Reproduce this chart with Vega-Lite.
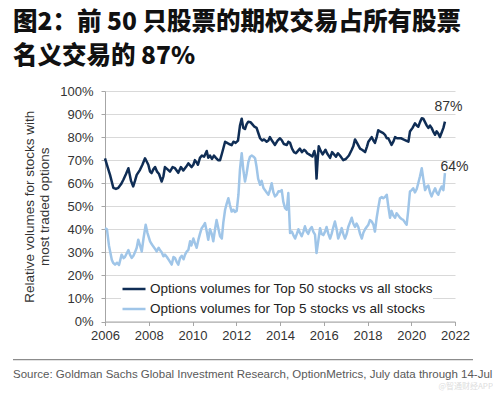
{
"$schema": "https://vega.github.io/schema/vega-lite/v6.json",
"background": "white",
"padding": {"left": 13, "top": 10, "right": 0, "bottom": 0},
"autosize": {"type": "pad"},
"title": {"text": ["图2：前 50 只股票的期权交易占所有股票", "名义交易的 87%"], "anchor": "start", "frame": "bounds", "font": "Noto Sans CJK SC", "fontSize": 24.5, "fontWeight": 900, "lineHeight": 34, "color": "#111111", "offset": 15.5},
"columns": 1,
"align": "none",
"center": false,
"spacing": 16,
"resolve": {"scale": {"color": "independent"}, "legend": {"color": "independent"}},
"config": {"view": {"stroke": null}, "font": "Liberation Sans",
"axisX": {"tickCount": 9, "labelOverlap": false},
"axisY": {"tickCount": 11, "labelOverlap": false}},
"concat": [
{
"width": 350,
"height": 230.5,
"layer": [
{
"data": {"values": [
{"s":"50","t":2006.00,"v":70.8},{"s":"50","t":2006.12,"v":67},{"s":"50","t":2006.23,"v":63.6},{"s":"50","t":2006.38,"v":58},{"s":"50","t":2006.50,"v":57.5},{"s":"50","t":2006.61,"v":58},{"s":"50","t":2006.73,"v":59.5},{"s":"50","t":2006.84,"v":61.5},{"s":"50","t":2006.96,"v":64},{"s":"50","t":2007.07,"v":66.5},{"s":"50","t":2007.19,"v":61},{"s":"50","t":2007.29,"v":58.6},{"s":"50","t":2007.37,"v":61},{"s":"50","t":2007.45,"v":63.6},{"s":"50","t":2007.60,"v":65.8},{"s":"50","t":2007.71,"v":68},{"s":"50","t":2007.83,"v":70.8},{"s":"50","t":2007.90,"v":69.5},{"s":"50","t":2007.98,"v":68},{"s":"50","t":2008.06,"v":65},{"s":"50","t":2008.13,"v":64.4},{"s":"50","t":2008.21,"v":66},{"s":"50","t":2008.29,"v":67},{"s":"50","t":2008.38,"v":65},{"s":"50","t":2008.47,"v":64},{"s":"50","t":2008.59,"v":60.7},{"s":"50","t":2008.67,"v":63},{"s":"50","t":2008.74,"v":67},{"s":"50","t":2008.86,"v":66},{"s":"50","t":2008.97,"v":65},{"s":"50","t":2009.09,"v":67},{"s":"50","t":2009.20,"v":66.5},{"s":"50","t":2009.35,"v":64.5},{"s":"50","t":2009.47,"v":67},{"s":"50","t":2009.58,"v":65.5},{"s":"50","t":2009.70,"v":67},{"s":"50","t":2009.81,"v":68.6},{"s":"50","t":2009.96,"v":67},{"s":"50","t":2010.04,"v":68},{"s":"50","t":2010.11,"v":70},{"s":"50","t":2010.19,"v":69},{"s":"50","t":2010.25,"v":68},{"s":"50","t":2010.34,"v":71},{"s":"50","t":2010.43,"v":72},{"s":"50","t":2010.53,"v":71.5},{"s":"50","t":2010.65,"v":74},{"s":"50","t":2010.72,"v":71},{"s":"50","t":2010.80,"v":72},{"s":"50","t":2010.89,"v":70.5},{"s":"50","t":2010.98,"v":72},{"s":"50","t":2011.07,"v":71},{"s":"50","t":2011.17,"v":70},{"s":"50","t":2011.26,"v":70},{"s":"50","t":2011.35,"v":73},{"s":"50","t":2011.49,"v":78},{"s":"50","t":2011.58,"v":77.5},{"s":"50","t":2011.67,"v":77},{"s":"50","t":2011.79,"v":76.5},{"s":"50","t":2011.87,"v":78},{"s":"50","t":2011.97,"v":77.5},{"s":"50","t":2012.08,"v":78.5},{"s":"50","t":2012.17,"v":85},{"s":"50","t":2012.25,"v":88},{"s":"50","t":2012.32,"v":84},{"s":"50","t":2012.40,"v":83.5},{"s":"50","t":2012.47,"v":85.5},{"s":"50","t":2012.55,"v":86.7},{"s":"50","t":2012.65,"v":86.5},{"s":"50","t":2012.74,"v":85.5},{"s":"50","t":2012.83,"v":84.5},{"s":"50","t":2012.93,"v":84},{"s":"50","t":2013.00,"v":82},{"s":"50","t":2013.09,"v":79.5},{"s":"50","t":2013.18,"v":78.5},{"s":"50","t":2013.27,"v":79},{"s":"50","t":2013.39,"v":78},{"s":"50","t":2013.47,"v":78.5},{"s":"50","t":2013.54,"v":80},{"s":"50","t":2013.63,"v":78.5},{"s":"50","t":2013.77,"v":76.6},{"s":"50","t":2013.89,"v":78.5},{"s":"50","t":2014.00,"v":79.5},{"s":"50","t":2014.09,"v":78.5},{"s":"50","t":2014.18,"v":77},{"s":"50","t":2014.31,"v":76.6},{"s":"50","t":2014.38,"v":78},{"s":"50","t":2014.46,"v":77.5},{"s":"50","t":2014.55,"v":75},{"s":"50","t":2014.64,"v":73.5},{"s":"50","t":2014.73,"v":73},{"s":"50","t":2014.82,"v":74},{"s":"50","t":2014.91,"v":75},{"s":"50","t":2015.00,"v":73.5},{"s":"50","t":2015.10,"v":74.5},{"s":"50","t":2015.17,"v":74},{"s":"50","t":2015.24,"v":73},{"s":"50","t":2015.33,"v":72.5},{"s":"50","t":2015.48,"v":71.6},{"s":"50","t":2015.57,"v":74},{"s":"50","t":2015.62,"v":72},{"s":"50","t":2015.67,"v":62},{"s":"50","t":2015.72,"v":70},{"s":"50","t":2015.77,"v":76},{"s":"50","t":2015.86,"v":74},{"s":"50","t":2015.95,"v":72.5},{"s":"50","t":2016.08,"v":74.5},{"s":"50","t":2016.15,"v":73},{"s":"50","t":2016.29,"v":71},{"s":"50","t":2016.38,"v":73.5},{"s":"50","t":2016.47,"v":72.5},{"s":"50","t":2016.56,"v":71.5},{"s":"50","t":2016.65,"v":73},{"s":"50","t":2016.74,"v":72},{"s":"50","t":2016.89,"v":70},{"s":"50","t":2017.01,"v":70.5},{"s":"50","t":2017.15,"v":72},{"s":"50","t":2017.28,"v":74.5},{"s":"50","t":2017.35,"v":76},{"s":"50","t":2017.43,"v":79},{"s":"50","t":2017.52,"v":77.5},{"s":"50","t":2017.66,"v":75},{"s":"50","t":2017.75,"v":74.5},{"s":"50","t":2017.89,"v":73.5},{"s":"50","t":2017.98,"v":76},{"s":"50","t":2018.04,"v":78},{"s":"50","t":2018.19,"v":80},{"s":"50","t":2018.27,"v":78.5},{"s":"50","t":2018.34,"v":77.5},{"s":"50","t":2018.42,"v":80},{"s":"50","t":2018.49,"v":83},{"s":"50","t":2018.57,"v":82.5},{"s":"50","t":2018.72,"v":81.7},{"s":"50","t":2018.80,"v":81},{"s":"50","t":2018.88,"v":79.5},{"s":"50","t":2018.95,"v":79.5},{"s":"50","t":2019.03,"v":78},{"s":"50","t":2019.10,"v":76.6},{"s":"50","t":2019.18,"v":78},{"s":"50","t":2019.26,"v":80},{"s":"50","t":2019.35,"v":79.5},{"s":"50","t":2019.44,"v":79.5},{"s":"50","t":2019.53,"v":79.5},{"s":"50","t":2019.64,"v":79},{"s":"50","t":2019.76,"v":78.5},{"s":"50","t":2019.87,"v":78},{"s":"50","t":2019.94,"v":82.4},{"s":"50","t":2020.06,"v":84},{"s":"50","t":2020.17,"v":86},{"s":"50","t":2020.25,"v":85},{"s":"50","t":2020.32,"v":84.5},{"s":"50","t":2020.40,"v":86.5},{"s":"50","t":2020.48,"v":88.2},{"s":"50","t":2020.55,"v":88},{"s":"50","t":2020.63,"v":86.5},{"s":"50","t":2020.71,"v":85},{"s":"50","t":2020.78,"v":84},{"s":"50","t":2020.86,"v":85},{"s":"50","t":2020.93,"v":84},{"s":"50","t":2021.00,"v":82.5},{"s":"50","t":2021.09,"v":81},{"s":"50","t":2021.16,"v":82.5},{"s":"50","t":2021.24,"v":81.5},{"s":"50","t":2021.31,"v":80},{"s":"50","t":2021.39,"v":82},{"s":"50","t":2021.47,"v":84},{"s":"50","t":2021.54,"v":86.7},
{"s":"5","t":2006.00,"v":40.5},{"s":"5","t":2006.09,"v":40},{"s":"5","t":2006.18,"v":33},{"s":"5","t":2006.31,"v":26.8},{"s":"5","t":2006.37,"v":25.5},{"s":"5","t":2006.46,"v":24.7},{"s":"5","t":2006.55,"v":25.5},{"s":"5","t":2006.64,"v":24.5},{"s":"5","t":2006.76,"v":29},{"s":"5","t":2006.85,"v":27.5},{"s":"5","t":2006.91,"v":28},{"s":"5","t":2006.99,"v":29.5},{"s":"5","t":2007.07,"v":31},{"s":"5","t":2007.14,"v":29},{"s":"5","t":2007.22,"v":27.6},{"s":"5","t":2007.30,"v":28.5},{"s":"5","t":2007.37,"v":30},{"s":"5","t":2007.45,"v":32},{"s":"5","t":2007.52,"v":35.5},{"s":"5","t":2007.60,"v":33},{"s":"5","t":2007.68,"v":30.4},{"s":"5","t":2007.76,"v":36},{"s":"5","t":2007.86,"v":42},{"s":"5","t":2007.94,"v":38.5},{"s":"5","t":2008.06,"v":34.8},{"s":"5","t":2008.14,"v":33.5},{"s":"5","t":2008.21,"v":32.5},{"s":"5","t":2008.29,"v":31.5},{"s":"5","t":2008.36,"v":30.4},{"s":"5","t":2008.45,"v":32},{"s":"5","t":2008.51,"v":31},{"s":"5","t":2008.59,"v":30},{"s":"5","t":2008.67,"v":28.3},{"s":"5","t":2008.74,"v":29},{"s":"5","t":2008.83,"v":28},{"s":"5","t":2008.93,"v":26.5},{"s":"5","t":2009.05,"v":24.7},{"s":"5","t":2009.13,"v":28},{"s":"5","t":2009.20,"v":27.5},{"s":"5","t":2009.27,"v":26},{"s":"5","t":2009.35,"v":24.7},{"s":"5","t":2009.43,"v":27.5},{"s":"5","t":2009.51,"v":28.5},{"s":"5","t":2009.59,"v":27},{"s":"5","t":2009.66,"v":29},{"s":"5","t":2009.74,"v":30.4},{"s":"5","t":2009.81,"v":31},{"s":"5","t":2009.89,"v":34.8},{"s":"5","t":2009.95,"v":33},{"s":"5","t":2010.04,"v":36},{"s":"5","t":2010.11,"v":34},{"s":"5","t":2010.19,"v":32},{"s":"5","t":2010.27,"v":35.5},{"s":"5","t":2010.34,"v":38},{"s":"5","t":2010.42,"v":40.5},{"s":"5","t":2010.50,"v":41.5},{"s":"5","t":2010.57,"v":42.7},{"s":"5","t":2010.65,"v":39},{"s":"5","t":2010.72,"v":35.5},{"s":"5","t":2010.80,"v":40},{"s":"5","t":2010.88,"v":38},{"s":"5","t":2010.95,"v":34.8},{"s":"5","t":2011.03,"v":40},{"s":"5","t":2011.10,"v":44},{"s":"5","t":2011.19,"v":40},{"s":"5","t":2011.26,"v":37},{"s":"5","t":2011.34,"v":36},{"s":"5","t":2011.41,"v":43},{"s":"5","t":2011.49,"v":48.5},{"s":"5","t":2011.56,"v":51},{"s":"5","t":2011.64,"v":53.5},{"s":"5","t":2011.71,"v":50.5},{"s":"5","t":2011.79,"v":47.7},{"s":"5","t":2011.87,"v":48.5},{"s":"5","t":2011.94,"v":47.5},{"s":"5","t":2012.02,"v":48},{"s":"5","t":2012.10,"v":55},{"s":"5","t":2012.17,"v":66},{"s":"5","t":2012.25,"v":73},{"s":"5","t":2012.32,"v":66},{"s":"5","t":2012.40,"v":60.7},{"s":"5","t":2012.47,"v":64},{"s":"5","t":2012.55,"v":69},{"s":"5","t":2012.63,"v":71.5},{"s":"5","t":2012.71,"v":72},{"s":"5","t":2012.79,"v":71.5},{"s":"5","t":2012.86,"v":70.8},{"s":"5","t":2012.93,"v":67},{"s":"5","t":2013.00,"v":62},{"s":"5","t":2013.09,"v":59.3},{"s":"5","t":2013.16,"v":61},{"s":"5","t":2013.24,"v":58},{"s":"5","t":2013.31,"v":57},{"s":"5","t":2013.39,"v":56},{"s":"5","t":2013.47,"v":55},{"s":"5","t":2013.54,"v":57},{"s":"5","t":2013.62,"v":60},{"s":"5","t":2013.70,"v":56},{"s":"5","t":2013.77,"v":54.3},{"s":"5","t":2013.85,"v":55},{"s":"5","t":2013.93,"v":56.5},{"s":"5","t":2014.00,"v":56.4},{"s":"5","t":2014.08,"v":57},{"s":"5","t":2014.15,"v":52},{"s":"5","t":2014.23,"v":49.2},{"s":"5","t":2014.31,"v":48.5},{"s":"5","t":2014.38,"v":55.7},{"s":"5","t":2014.46,"v":38.4},{"s":"5","t":2014.54,"v":39},{"s":"5","t":2014.61,"v":37.5},{"s":"5","t":2014.69,"v":36},{"s":"5","t":2014.77,"v":38},{"s":"5","t":2014.84,"v":40},{"s":"5","t":2014.91,"v":38.5},{"s":"5","t":2014.99,"v":37},{"s":"5","t":2015.07,"v":39},{"s":"5","t":2015.14,"v":41.3},{"s":"5","t":2015.22,"v":39},{"s":"5","t":2015.29,"v":38},{"s":"5","t":2015.37,"v":40},{"s":"5","t":2015.45,"v":41},{"s":"5","t":2015.52,"v":39},{"s":"5","t":2015.60,"v":37.7},{"s":"5","t":2015.67,"v":29.7},{"s":"5","t":2015.75,"v":35},{"s":"5","t":2015.83,"v":40.5},{"s":"5","t":2015.90,"v":38},{"s":"5","t":2015.98,"v":37.5},{"s":"5","t":2016.06,"v":39},{"s":"5","t":2016.13,"v":41},{"s":"5","t":2016.21,"v":38},{"s":"5","t":2016.29,"v":36},{"s":"5","t":2016.36,"v":38},{"s":"5","t":2016.44,"v":41},{"s":"5","t":2016.51,"v":43.4},{"s":"5","t":2016.59,"v":40},{"s":"5","t":2016.66,"v":36},{"s":"5","t":2016.74,"v":38},{"s":"5","t":2016.82,"v":40.5},{"s":"5","t":2016.89,"v":38},{"s":"5","t":2016.97,"v":36},{"s":"5","t":2017.05,"v":38},{"s":"5","t":2017.12,"v":41},{"s":"5","t":2017.20,"v":43},{"s":"5","t":2017.28,"v":45},{"s":"5","t":2017.35,"v":42.5},{"s":"5","t":2017.43,"v":41},{"s":"5","t":2017.50,"v":42.5},{"s":"5","t":2017.58,"v":41},{"s":"5","t":2017.66,"v":38},{"s":"5","t":2017.74,"v":36},{"s":"5","t":2017.81,"v":38.5},{"s":"5","t":2017.89,"v":40},{"s":"5","t":2017.96,"v":41},{"s":"5","t":2018.04,"v":42},{"s":"5","t":2018.11,"v":44},{"s":"5","t":2018.19,"v":43.4},{"s":"5","t":2018.27,"v":42},{"s":"5","t":2018.34,"v":39},{"s":"5","t":2018.42,"v":45},{"s":"5","t":2018.49,"v":49.2},{"s":"5","t":2018.57,"v":53.5},{"s":"5","t":2018.65,"v":54},{"s":"5","t":2018.72,"v":53.5},{"s":"5","t":2018.80,"v":54},{"s":"5","t":2018.88,"v":55},{"s":"5","t":2018.95,"v":50},{"s":"5","t":2019.03,"v":45},{"s":"5","t":2019.10,"v":48},{"s":"5","t":2019.18,"v":46},{"s":"5","t":2019.26,"v":45},{"s":"5","t":2019.33,"v":47},{"s":"5","t":2019.41,"v":46},{"s":"5","t":2019.49,"v":45},{"s":"5","t":2019.56,"v":44.5},{"s":"5","t":2019.64,"v":44},{"s":"5","t":2019.71,"v":43},{"s":"5","t":2019.79,"v":42},{"s":"5","t":2019.86,"v":48},{"s":"5","t":2019.94,"v":56.4},{"s":"5","t":2020.02,"v":57},{"s":"5","t":2020.09,"v":57.8},{"s":"5","t":2020.17,"v":56},{"s":"5","t":2020.25,"v":57.5},{"s":"5","t":2020.32,"v":60},{"s":"5","t":2020.40,"v":63},{"s":"5","t":2020.48,"v":66.5},{"s":"5","t":2020.55,"v":62},{"s":"5","t":2020.63,"v":57},{"s":"5","t":2020.71,"v":58.5},{"s":"5","t":2020.78,"v":59},{"s":"5","t":2020.86,"v":56},{"s":"5","t":2020.93,"v":54.3},{"s":"5","t":2021.00,"v":56},{"s":"5","t":2021.09,"v":57.8},{"s":"5","t":2021.16,"v":56},{"s":"5","t":2021.24,"v":55},{"s":"5","t":2021.31,"v":57},{"s":"5","t":2021.39,"v":58.6},{"s":"5","t":2021.47,"v":57},{"s":"5","t":2021.54,"v":64.4}
]},
"mark": {"type": "line", "strokeWidth": 2.5, "strokeJoin": "round"},
"encoding": {
"x": {"field": "t", "type": "quantitative", "scale": {"domain": [2006, 2022], "nice": false, "zero": false},
"axis": {"title": null, "values": [2006,2008,2010,2012,2014,2016,2018,2020,2022], "tickCount": 9, "format": "d", "grid": false, "labelFont": "Liberation Sans", "labelFontSize": 13, "labelColor": "#333333", "domainColor": "#a6a6a6", "tickColor": "#a6a6a6", "tickSize": 4, "labelPadding": 4, "labelFlush": false, "labelOverlap": false}},
"y": {"field": "v", "type": "quantitative", "scale": {"domain": [0, 100], "nice": false},
"axis": {"title": ["Relative volumes for stocks with", "most traded options"], "titleFont": "Liberation Sans", "titleFontSize": 13.5, "titleFontWeight": "normal", "titleColor": "#333333", "titleLineHeight": 15, "titlePadding": 8, "values": [0,10,20,30,40,50,60,70,80,90,100], "tickCount": 11, "labelExpr": "datum.value + '%'", "labelOverlap": false, "labelFont": "Liberation Sans", "labelFontSize": 13, "labelColor": "#333333", "grid": true, "gridColor": "#d9d9d9", "domainColor": "#a6a6a6", "tickColor": "#a6a6a6", "tickSize": 4, "labelPadding": 8}},
"color": {"field": "s", "type": "nominal", "scale": {"domain": ["50", "5"], "range": ["#0f2d55", "#9fc5e8"]},
"legend": {"title": null, "orient": "none", "legendX": 16, "legendY": 185, "direction": "vertical", "symbolType": "stroke", "symbolSize": 529, "symbolStrokeWidth": 2.5, "labelFont": "Liberation Sans", "labelFontSize": 13.5, "labelColor": "#222222", "labelOffset": 3, "labelLimit": 0, "rowPadding": 0, "fillColor": "white", "padding": 0,
"labelExpr": "'Options volumes for Top ' + datum.label + ' stocks vs all stocks'"}}
}
},
{
"data": {"values": [{"t": 2021.54, "v": 86.7, "label": "87%"}]},
"mark": {"type": "text", "font": "Liberation Sans", "fontSize": 14, "color": "#333333", "dx": 3.5, "dy": -15},
"encoding": {"x": {"field": "t", "type": "quantitative"}, "y": {"field": "v", "type": "quantitative"}, "text": {"field": "label"}}
},
{
"data": {"values": [{"t": 2021.54, "v": 64.4, "label": "64%"}]},
"mark": {"type": "text", "font": "Liberation Sans", "fontSize": 14, "color": "#333333", "dx": 9.5, "dy": -6},
"encoding": {"x": {"field": "t", "type": "quantitative"}, "y": {"field": "v", "type": "quantitative"}, "text": {"field": "label"}}
}
]
},
{
"width": 368,
"height": 32,
"layer": [
{
"data": {"values": [{"a": 0, "b": 1, "top": 1, "low": 0.96}]},
"mark": {"type": "rect", "fill": "#8c8c8c", "xOffset": -92},
"encoding": {
"x": {"field": "a", "type": "quantitative", "scale": {"domain": [0, 1], "nice": false}, "axis": null},
"x2": {"field": "b"},
"y": {"field": "top", "type": "quantitative", "scale": {"domain": [0, 1], "nice": false}, "axis": null},
"y2": {"field": "low"}
}
},
{
"data": {"values": [{"p": 0, "mid": 0.5, "txt": "Source: Goldman Sachs Global Investment Research, OptionMetrics, July data through 14-Jul"}]},
"mark": {"type": "text", "align": "left", "font": "Liberation Sans", "fontSize": 11.5, "color": "#595959", "dx": -92},
"encoding": {
"x": {"field": "p", "type": "quantitative", "axis": null},
"y": {"field": "mid", "type": "quantitative", "axis": null},
"text": {"field": "txt"}
}
},
{
"data": {"values": [{"p": 1, "mid": 0.5, "txt": "@智通财经APP"}]},
"mark": {"type": "text", "align": "right", "font": "Noto Sans CJK SC", "fontSize": 8, "color": "#dddddd", "dx": 20, "dy": 12},
"encoding": {
"x": {"field": "p", "type": "quantitative", "axis": null},
"y": {"field": "mid", "type": "quantitative", "axis": null},
"text": {"field": "txt"}
}
}
]
}
]
}
